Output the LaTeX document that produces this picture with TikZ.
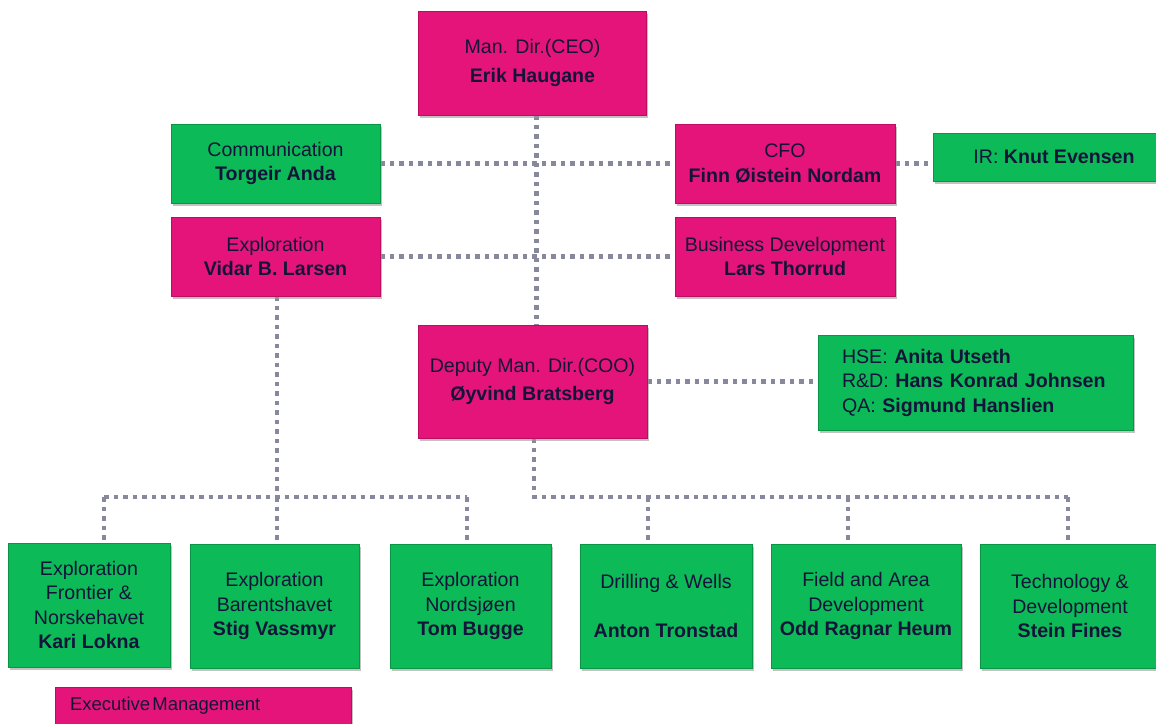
\documentclass[tikz,border=0pt]{standalone}
\usepackage{fontspec}
\setmainfont{Liberation Sans}
\usetikzlibrary{shadows,backgrounds}
\definecolor{pk}{RGB}{228,20,122}
\definecolor{pkd}{RGB}{190,12,98}
\definecolor{gn}{RGB}{12,186,88}
\definecolor{gnd}{RGB}{8,150,68}
\definecolor{txt}{RGB}{20,20,58}
\definecolor{ln}{RGB}{136,136,156}
\begin{document}
\begin{tikzpicture}[x=1pt,y=-1pt,
  box/.style={draw, line width=0.8pt, inner sep=0pt, align=center, text=txt,
    font=\fontsize{19.6}{24.5}\selectfont,
    drop shadow={shadow xshift=1.5pt, shadow yshift=-2.5pt, fill=black!40, opacity=0.6}},
  pbox/.style={box, fill=pk, draw=pkd},
  gbox/.style={box, fill=gn, draw=gnd},
  conn/.style={draw=ln, line width=4.5pt, dash pattern=on 4.5pt off 5pt}]
\useasboundingbox (0,0) rectangle (1156,723);

% executive
\node[pbox, minimum width=228, minimum height=104] (ceo) at (532.5,63) {Man. Dir.(CEO)\\[5pt]\textbf{Erik Haugane}};
\node[gbox, minimum width=209, minimum height=79] (comm) at (275.5,163.5) {Communication\\\textbf{Torgeir Anda}};
\node[pbox, minimum width=220, minimum height=79] (cfo) at (785,163.5) {CFO\\\textbf{Finn Øistein Nordam}};
\node[gbox, minimum width=242, minimum height=48] (ir) at (1054,157) {IR: \textbf{Knut Evensen}};
\node[pbox, minimum width=209, minimum height=79] (vidar) at (275.5,256.5) {Exploration\\\textbf{Vidar B. Larsen}};
\node[pbox, minimum width=220, minimum height=79] (busdev) at (785,256.5) {Business Development\\\textbf{Lars Thorrud}};
\node[pbox, minimum width=229, minimum height=113] (coo) at (532.5,381.5) {Deputy Man. Dir.(COO)\\[4pt]\textbf{Øyvind Bratsberg}};
\node[gbox, minimum width=315, minimum height=95, text width=267, inner xsep=24pt, align=left] (hse) at (975.5,382.5)
  {HSE: \textbf{Anita Utseth}\\R\&D: \textbf{Hans Konrad Johnsen}\\QA: \textbf{Sigmund Hanslien}};

% departments
\node[gbox, minimum width=162, minimum height=124] (kari) at (89,605) {Exploration\\Frontier \&\\Norskehavet\\\textbf{Kari Lokna}};
\node[gbox, minimum width=169, minimum height=124] (stig) at (274.5,606) {Exploration\\Barentshavet\\\textbf{Stig Vassmyr}};
\node[gbox, minimum width=161, minimum height=124] (tom) at (470.5,606) {Exploration\\Nordsjøen\\\textbf{Tom Bugge}};
\node[gbox, minimum width=172, minimum height=124] (anton) at (666,606) {Drilling \& Wells\\[24.5pt]\textbf{Anton Tronstad}};
\node[gbox, minimum width=190, minimum height=124] (odd) at (866,606) {Field and Area\\Development\\\textbf{Odd Ragnar Heum}};
\node[gbox, minimum width=180, minimum height=124] (stein) at (1070,606) {Technology \&\\Development\\\textbf{Stein Fines}};

% legend
\node[pbox, minimum width=296, minimum height=38, text width=266, inner xsep=15pt, align=left,
  font=\fontsize{18.5}{20}\selectfont] (legend) at (203,706) {Executive\hspace{0.12em}Management};

% junction coordinates
\coordinate (jl) at (277,497);
\coordinate (dk) at (104,497);
\coordinate (dt) at (467,497);
\coordinate (jr) at (534,497);
\coordinate (da) at (648,497);
\coordinate (do) at (848,497);
\coordinate (ds) at (1068,497);

\begin{pgfonlayer}{background}
\draw[conn] ([xshift=4pt]ceo.south) -- ([xshift=4pt]coo.north);
\draw[conn] (comm.east) -- (comm.east -| cfo.west);
\draw[conn] (vidar.east) -- (vidar.east -| busdev.west);
\draw[conn] (cfo.east) -- (cfo.east -| ir.west);
\draw[conn] (coo.east) -- (coo.east -| hse.west);
\draw[conn] ([xshift=1.5pt]vidar.south) -- (jl);
\draw[conn] (dk) -- (dt);
\draw[conn] (dk) -- (dk |- kari.north);
\draw[conn] (jl) -- (jl |- stig.north);
\draw[conn] (dt) -- (dt |- tom.north);
\draw[conn] ([xshift=1.5pt]coo.south) -- (jr) -- (ds);
\draw[conn] (da) -- (da |- anton.north);
\draw[conn] (do) -- (do |- odd.north);
\draw[conn] (ds) -- (ds |- stein.north);
\end{pgfonlayer}
\end{tikzpicture}
\end{document}
